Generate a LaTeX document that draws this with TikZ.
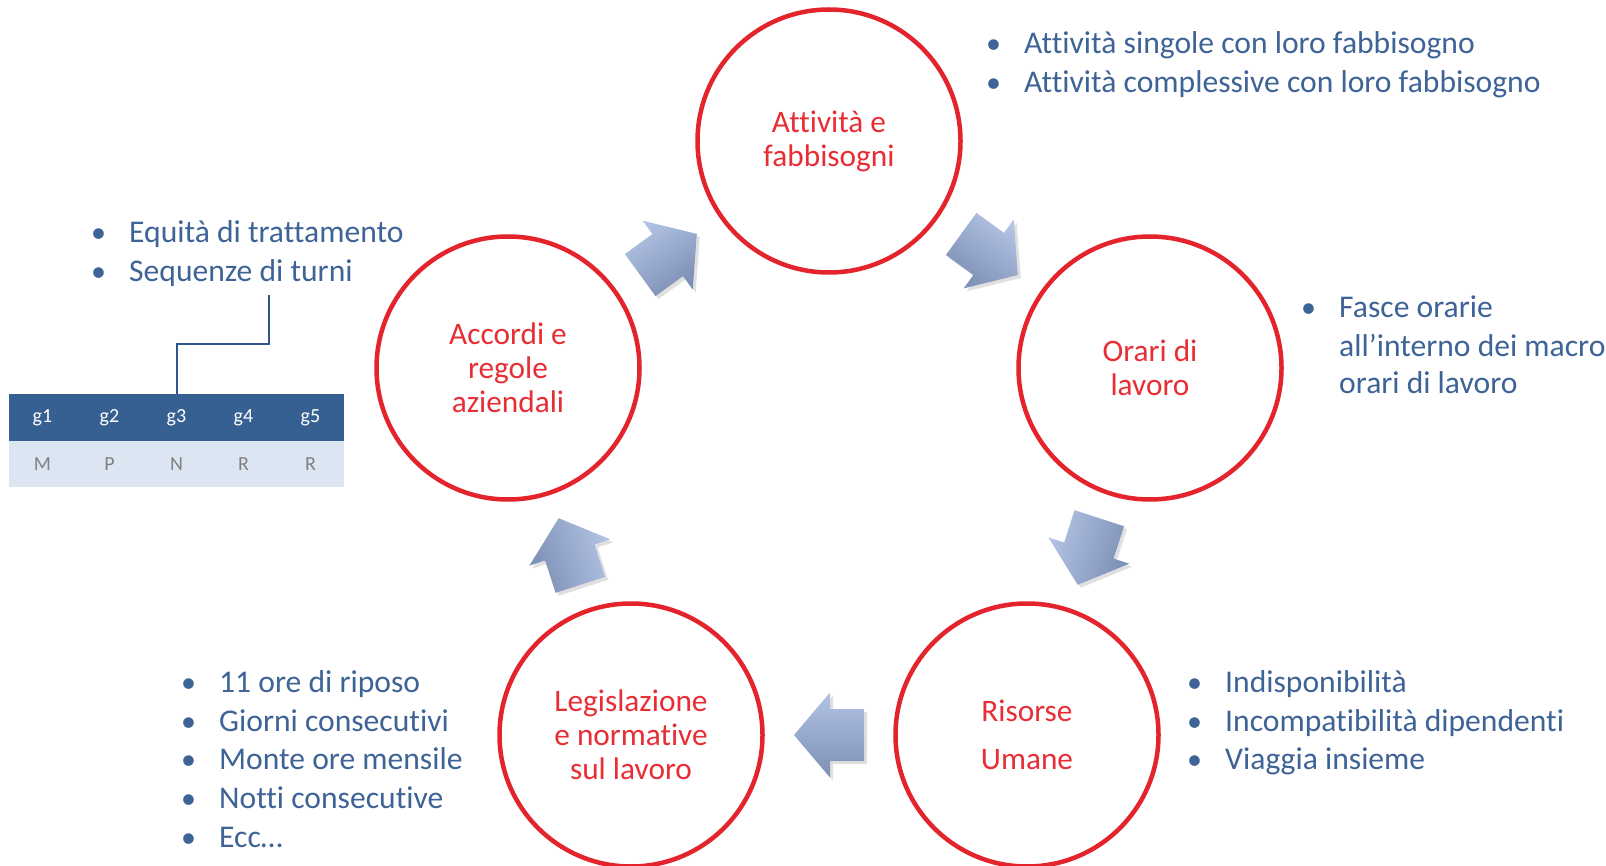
\documentclass[tikz,border=0pt]{standalone}
\usepackage{fontspec}
\setmainfont{Carlito}[Ligatures={NoCommon}]
\usetikzlibrary{calc}
\definecolor{cred}{RGB}{228,36,44}
\definecolor{tred}{RGB}{232,45,52}
\definecolor{tblue}{RGB}{62,99,150}
\definecolor{alight}{RGB}{178,195,228}
\definecolor{adark}{RGB}{124,143,180}
\definecolor{hdr}{RGB}{55,96,146}
\definecolor{rowc}{RGB}{220,230,242}
\definecolor{gtext}{RGB}{128,128,128}
\definecolor{conn}{RGB}{47,85,140}
\tikzset{
  ring/.style={circle, draw=cred, line width=4.5pt, minimum size=263pt, inner sep=0pt,
    text=tred, font=\fontsize{31.3}{34}\selectfont, align=center},
  btext/.style={text=tblue, font=\fontsize{31.6}{39}\selectfont, anchor=base west, inner sep=0pt},
  bdot/.style={text=tblue, font=\fontsize{30}{39}\selectfont, anchor=base west, inner sep=0pt},
  hcell/.style={fill=hdr, text=white, minimum width=67pt, minimum height=47pt, inner sep=0pt,
    font=\fontsize{20}{24}\selectfont},
  rcell/.style={fill=rowc, text=gtext, minimum width=67pt, minimum height=46pt, inner sep=0pt,
    font=\fontsize{20}{24}\selectfont},
  connline/.style={draw=conn, line width=2pt},
}
\newcommand\blkarrow[4]{%
  \begin{scope}[shift={($(#1)!0.5!(#2)+(3,3)$)}, rotate=#3]
    \fill[black, opacity=0.12] (-35,-26) -- (-1,-26) -- (-1,-42.5) -- (35,0) -- (-1,42.5) -- (-1,26) -- (-35,26) -- cycle;
  \end{scope}
  \begin{scope}[shift={($(#1)!0.5!(#2)$)}, rotate=#3]
    \shade[top color=alight, bottom color=adark, shading angle=#4]
      (-35,-26) -- (-1,-26) -- (-1,-42.5) -- (35,0) -- (-1,42.5) -- (-1,26) -- (-35,26) -- cycle;
  \end{scope}}
\begin{document}
\begin{tikzpicture}[x=1pt, y=-1pt]
\clip (0,0) rectangle (1606,866);
\fill[white] (0,0) rectangle (1606,866);

% circles
\node[ring] (c1) at (829,141) {Attività e\\fabbisogni};
\node[ring] (c2) at (1150,368) {Orari di\\lavoro};
\node[ring] (c3) at (1027,735) {Risorse\\[14pt]Umane};
\node[ring] (c4) at (631,735) {Legislazione\\e normative\\sul lavoro};
\node[ring] (c5) at (508,368) {Accordi e\\regole\\aziendali};

% block arrows
\blkarrow{c5}{c1}{36}{36}
\blkarrow{c1}{c2}{-36}{-36}
\blkarrow{c2}{c3}{-108}{72}
\blkarrow{c3}{c4}{180}{0}
\blkarrow{c4}{c5}{108}{-72}

% top right list
\node[bdot] (trb1) at (986,53.5) {•};
\node[btext] (tr1) at (1024,53.5) {Attività singole con loro fabbisogno};
\node[bdot] (trb2) at (986,92.5) {•};
\node[btext] (tr2) at (1024,92.5) {Attività complessive con loro fabbisogno};

% top left list
\node[bdot] (tlb1) at (91,243) {•};
\node[btext] (tl1) at (129,243) {Equità di trattamento};
\node[bdot] (tlb2) at (91,282) {•};
\node[btext] (tl2) at (129,282) {Sequenze di turni};

% right middle list
\node[bdot] (rmb1) at (1301,318) {•};
\node[btext] (rm1) at (1339,318) {Fasce orarie};
\node[btext] (rm2) at (1339,356) {all’interno dei macro};
\node[btext] (rm3) at (1339,394) {orari di lavoro};

% bottom right list
\node[bdot] (brb1) at (1187,692) {•};
\node[btext] (br1) at (1225,692) {Indisponibilità};
\node[bdot] (brb2) at (1187,731) {•};
\node[btext] (br2) at (1225,731) {Incompatibilità dipendenti};
\node[bdot] (brb3) at (1187,769) {•};
\node[btext] (br3) at (1225,769) {Viaggia insieme};

% bottom left list
\node[bdot] (blb1) at (181,692) {•};
\node[btext] (bl1) at (219,692) {11 ore di riposo};
\node[bdot] (blb2) at (181,731) {•};
\node[btext] (bl2) at (219,731) {Giorni consecutivi};
\node[bdot] (blb3) at (181,769) {•};
\node[btext] (bl3) at (219,769) {Monte ore mensile};
\node[bdot] (blb4) at (181,808) {•};
\node[btext] (bl4) at (219,808) {Notti consecutive};
\node[bdot] (blb5) at (181,847) {•};
\node[btext] (bl5) at (219,847) {Ecc…};

% table
\node[hcell] (h1) at (42.5,417.5) {g1};
\node[hcell] (h2) at (109.5,417.5) {g2};
\node[hcell] (h3) at (176.5,417.5) {g3};
\node[hcell] (h4) at (243.5,417.5) {g4};
\node[hcell] (h5) at (310.5,417.5) {g5};
\node[rcell] (r1) at (42.5,464) {M};
\node[rcell] (r2) at (109.5,464) {P};
\node[rcell] (r3) at (176.5,464) {N};
\node[rcell] (r4) at (243.5,464) {R};
\node[rcell] (r5) at (310.5,464) {R};

% connector
\coordinate (ct) at (269,295);
\draw[connline] (h3.north) -- ++(0,-50) -| (ct);
\end{tikzpicture}
\end{document}
